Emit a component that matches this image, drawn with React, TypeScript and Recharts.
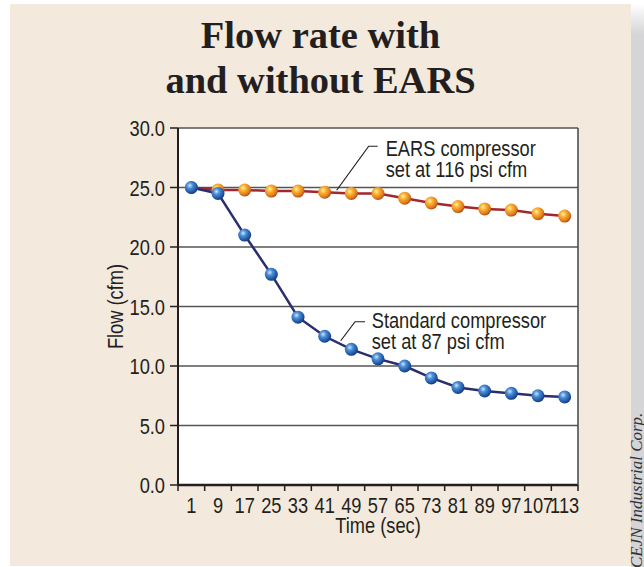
import React from 'react';
import { LineChart, Line, XAxis, YAxis, CartesianGrid, ReferenceDot } from 'recharts';

const times = ['1', '9', '17', '25', '33', '41', '49', '57', '65', '73', '81', '89', '97', '107', '113'];
const earsFlow = [25.0, 24.8, 24.8, 24.7, 24.7, 24.6, 24.5, 24.5, 24.1, 23.7, 23.4, 23.2, 23.1, 22.8, 22.6];
const standardFlow = [25.0, 24.5, 21.0, 17.7, 14.1, 12.5, 11.4, 10.6, 10.0, 9.0, 8.2, 7.9, 7.7, 7.5, 7.4];
const flowTicks = [0, 5, 10, 15, 20, 25, 30];

const data = times.map((t, i) => ({ time: t, ears: earsFlow[i], standard: standardFlow[i] }));

const W = 644;
const H = 567;
const MARGIN = { top: 128, right: 65, bottom: 32, left: 118 };
const Y_AXIS_W = 60;
const PLOT_W = W - MARGIN.left - MARGIN.right - Y_AXIS_W - 1;
const HALF_STEP = PLOT_W / times.length / 2;

const INK = '#231f20';
const SANS = "'Liberation Sans', Arial, Helvetica, sans-serif";
const FS = 22;
const SX = 0.83; // condensed look

// sans text squeezed horizontally, like the condensed face in the original
function NText({ x, y, anchor = 'start', rotate = 0, children }: any) {
  return (
    <text
      transform={`translate(${x},${y}) rotate(${rotate}) scale(${SX},1)`}
      textAnchor={anchor}
      fontSize={FS}
      fontFamily={SANS}
      fill={INK}
    >
      {children}
    </text>
  );
}

function TimeTick(props: any) {
  const { x, y, payload, index } = props;
  const axisY = y - 8;
  const last = index === times.length - 1;
  return (
    <g>
      <line x1={x - HALF_STEP} x2={x - HALF_STEP} y1={axisY} y2={axisY + 6} stroke={INK} strokeWidth={1.5} />
      {last && <line x1={x + HALF_STEP} x2={x + HALF_STEP} y1={axisY} y2={axisY + 6} stroke={INK} strokeWidth={1.5} />}
      <NText x={x} y={y + 20} anchor="middle">{payload.value}</NText>
    </g>
  );
}

function FlowTick(props: any) {
  const { x, y, payload } = props;
  return <NText x={x} y={y + 8} anchor="end">{Number(payload.value).toFixed(1)}</NText>;
}

function Callout({ cx, cy, pts, tx, ty, lines }: any) {
  const d = pts.map((p: number[], i: number) => `${i ? 'L' : 'M'}${cx + p[0]},${cy + p[1]}`).join(' ');
  return (
    <g>
      <path d={d} fill="none" stroke={INK} strokeWidth={1.2} />
      {lines.map((l: string, i: number) => (
        <NText key={l} x={cx + tx} y={cy + ty + i * 21}>{l}</NText>
      ))}
    </g>
  );
}

export default function App() {
  return (
    <div style={{ position: 'absolute', left: 0, top: 0, width: W, height: H, background: '#fff', overflow: 'hidden' }}>
      <svg width={0} height={0} style={{ position: 'absolute' }}>
        <defs>
          <radialGradient id="orangeBall" cx="38%" cy="35%" r="65%">
            <stop offset="0%" stopColor="#fff3a6" />
            <stop offset="35%" stopColor="#f9b234" />
            <stop offset="80%" stopColor="#e0791c" />
            <stop offset="100%" stopColor="#b0501a" />
          </radialGradient>
          <radialGradient id="blueBall" cx="38%" cy="35%" r="65%">
            <stop offset="0%" stopColor="#cfe6ff" />
            <stop offset="35%" stopColor="#4d8ed6" />
            <stop offset="80%" stopColor="#1f58a6" />
            <stop offset="100%" stopColor="#173d7c" />
          </radialGradient>
        </defs>
      </svg>

      <div style={{ position: 'absolute', left: 10, top: 4, width: 621, height: 562, background: '#f4e9dd' }} />
      <div
        style={{
          position: 'absolute', left: 631, top: 4, width: 13, height: 563,
          background: 'linear-gradient(#ffffff 0px, #d5d5d7 30px, #d5d5d7 100%)',
        }}
      />

      <div
        style={{
          position: 'absolute', left: 10, top: 13, width: 621, textAlign: 'center',
          fontFamily: "'Liberation Serif', 'Times New Roman', serif", fontWeight: 'bold',
          fontSize: 38.5, lineHeight: '45px', color: INK,
        }}
      >
        Flow rate with
        <br />
        and without EARS
      </div>

      <div style={{ position: 'absolute', left: 0, top: 0 }}>
        <LineChart width={W} height={H} data={data} margin={MARGIN}>
          <CartesianGrid vertical={false} fill="#ffffff" stroke="#555555" strokeWidth={1.3} />
          <XAxis
            dataKey="time"
            height={50}
            padding={{ left: HALF_STEP, right: HALF_STEP }}
            interval={0}
            tickSize={6}
            tickMargin={2}
            tickLine={false}
            tick={<TimeTick />}
            axisLine={{ stroke: INK, strokeWidth: 2.5 }}
            label={(p: any) => (
              <NText x={p.viewBox.x + p.viewBox.width / 2} y={533} anchor="middle">Time (sec)</NText>
            )}
          />
          <YAxis
            width={Y_AXIS_W}
            domain={[0, 30]}
            ticks={flowTicks}
            interval={0}
            tickSize={8}
            tickMargin={5}
            tick={<FlowTick />}
            tickLine={{ stroke: INK, strokeWidth: 1.5 }}
            axisLine={{ stroke: INK, strokeWidth: 2 }}
            label={(p: any) => (
              <NText x={p.viewBox.x + 5} y={p.viewBox.y + p.viewBox.height / 2} anchor="middle" rotate={-90}>
                Flow (cfm)
              </NText>
            )}
          />
          <YAxis
            yAxisId="border"
            orientation="right"
            width={1}
            domain={[0, 30]}
            tick={false}
            tickLine={false}
            axisLine={{ stroke: '#444444', strokeWidth: 1.5 }}
          />
          <Line
            dataKey="ears"
            stroke="#a3272c"
            strokeWidth={2.5}
            dot={{ r: 6.5, fill: 'url(#orangeBall)', stroke: 'none' }}
            activeDot={false}
            isAnimationActive={false}
          />
          <Line
            dataKey="standard"
            stroke="#2a2d6e"
            strokeWidth={2.5}
            dot={{ r: 6.5, fill: 'url(#blueBall)', stroke: 'none' }}
            activeDot={false}
            isAnimationActive={false}
          />
          <ReferenceDot
            x={times[5]}
            y={earsFlow[5]}
            ifOverflow="visible"
            shape={(p: any) => (
              <Callout
                cx={p.cx}
                cy={p.cy}
                pts={[[12, -2], [44, -46], [53, -46]]}
                tx={61}
                ty={-36}
                lines={['EARS compressor', 'set at 116 psi cfm']}
              />
            )}
          />
          <ReferenceDot
            x={times[6]}
            y={standardFlow[6]}
            ifOverflow="visible"
            shape={(p: any) => (
              <Callout
                cx={p.cx}
                cy={p.cy}
                pts={[[-10.6, -8.6], [3.7, -27.6], [13.7, -27.6]]}
                tx={20.4}
                ty={-21}
                lines={['Standard compressor', 'set at 87 psi cfm']}
              />
            )}
          />
        </LineChart>
      </div>

      <svg width={W} height={H} style={{ position: 'absolute', left: 0, top: 0, pointerEvents: 'none' }}>
        <text
          x={642}
          y={568}
          transform="rotate(-90 642 568)"
          fontFamily="'Liberation Serif', 'Times New Roman', serif"
          fontStyle="italic"
          fontSize={17}
          fill="#333333"
        >
          CEJN Industrial Corp.
        </text>
      </svg>
    </div>
  );
}
